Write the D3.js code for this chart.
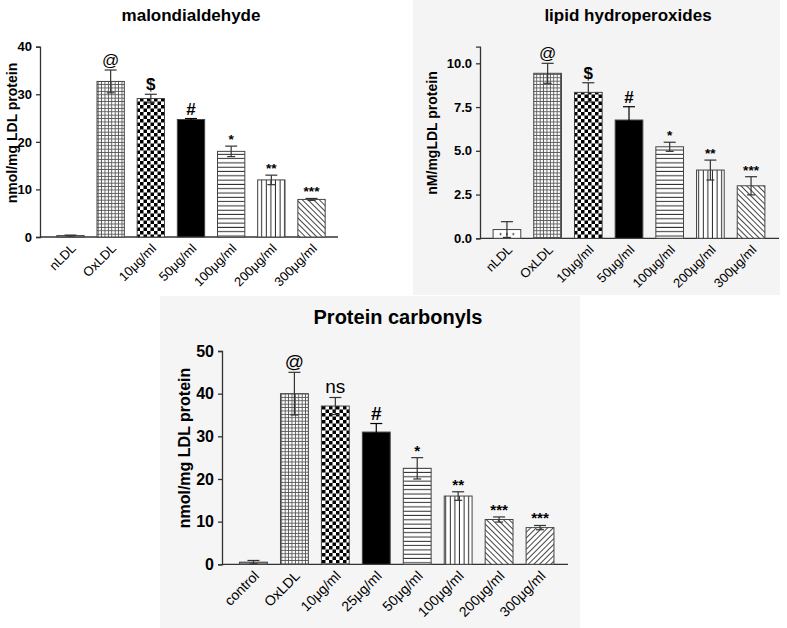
<!DOCTYPE html>
<html lang="en">
<head>
<meta charset="UTF-8">
<title>Oxidation markers</title>
<style>
  body { margin: 0; background: #fff; }
  svg text { font-family: Arial, "Liberation Sans", sans-serif; fill: #000; }
</style>
</head>
<body>
<div id="my_dataviz"></div>
<script src="https://d3js.org/d3.v7.min.js"></script>
<script>

// ---- data ----
var mdaLabels = ["nLDL", "OxLDL", "10μg/ml", "50μg/ml", "100μg/ml", "200μg/ml", "300μg/ml"];
var mdaMean   = [0.3, 32.7, 29.1, 24.7, 18.0, 12.0, 7.9];
var mdaErr    = [0.1, 2.4, 0.9, 0.2, 1.1, 1.0, 0.2];
var mdaSig    = ["", "@", "$", "#", "*", "**", "***"];
var mdaTicks  = [0, 10, 20, 30, 40];

var lhLabels = ["nLDL", "OxLDL", "10μg/ml", "50μg/ml", "100μg/ml", "200μg/ml", "300μg/ml"];
var lhMean   = [0.5, 9.43, 8.34, 6.76, 5.23, 3.9, 3.0];
var lhErr    = [0.45, 0.57, 0.55, 0.76, 0.26, 0.57, 0.52];
var lhSig    = ["", "@", "$", "#", "*", "**", "***"];
var lhTicks  = [0, 2.5, 5, 7.5, 10];

var pcLabels = ["control", "OxLDL", "10μg/ml", "25μg/ml", "50μg/ml", "100μg/ml", "200μg/ml", "300μg/ml"];
var pcMean   = [0.5, 40.0, 37.1, 31.0, 22.5, 16.0, 10.5, 8.6];
var pcErr    = [0.4, 5.0, 2.0, 2.0, 2.5, 1.0, 0.6, 0.5];
var pcSig    = ["", "@", "ns", "#", "*", "**", "***", "***"];
var pcTicks  = [0, 10, 20, 30, 40, 50];

var svg = d3.select("#my_dataviz")
  .append("svg")
    .attr("width", 787)
    .attr("height", 628);

// light grey panels behind the two right/bottom figures
svg.append("rect").attr("x", 413).attr("y", 0).attr("width", 367).attr("height", 295).attr("fill", "#f4f4f4");
svg.append("rect").attr("x", 160).attr("y", 296).attr("width", 420).attr("height", 332).attr("fill", "#f5f5f5");

// ---- fill patterns ----
var defs = svg.append("defs");
var ink = "#2a2a2a";

var p = defs.append("pattern").attr("id", "grid").attr("patternUnits", "userSpaceOnUse")
  .attr("width", 3.4).attr("height", 3.4);
p.append("rect").attr("width", 3.4).attr("height", 3.4).attr("fill", "#fff");
p.append("rect").attr("x", 2.5).attr("width", 0.9).attr("height", 3.4).attr("fill", "#555");
p.append("rect").attr("y", 2.5).attr("width", 3.4).attr("height", 0.9).attr("fill", "#555");

p = defs.append("pattern").attr("id", "checker").attr("patternUnits", "userSpaceOnUse")
  .attr("width", 7).attr("height", 7);
p.append("rect").attr("width", 7).attr("height", 7).attr("fill", "#fff");
p.append("rect").attr("width", 3.5).attr("height", 3.5).attr("fill", "#000");
p.append("rect").attr("x", 3.5).attr("y", 3.5).attr("width", 3.5).attr("height", 3.5).attr("fill", "#000");

p = defs.append("pattern").attr("id", "hlines").attr("patternUnits", "userSpaceOnUse")
  .attr("width", 8).attr("height", 4.3);
p.append("rect").attr("width", 8).attr("height", 4.3).attr("fill", "#fff");
p.append("rect").attr("y", 3.3).attr("width", 8).attr("height", 1).attr("fill", ink);

p = defs.append("pattern").attr("id", "vlines").attr("patternUnits", "userSpaceOnUse")
  .attr("width", 4.6).attr("height", 8);
p.append("rect").attr("width", 4.6).attr("height", 8).attr("fill", "#fff");
p.append("rect").attr("x", 3.6).attr("width", 1).attr("height", 8).attr("fill", ink);

p = defs.append("pattern").attr("id", "diagDown").attr("patternUnits", "userSpaceOnUse")
  .attr("width", 4).attr("height", 4).attr("patternTransform", "rotate(-45)");
p.append("rect").attr("width", 4).attr("height", 4).attr("fill", "#fff");
p.append("rect").attr("width", 1).attr("height", 4).attr("fill", "#444");

p = defs.append("pattern").attr("id", "diagUp").attr("patternUnits", "userSpaceOnUse")
  .attr("width", 4).attr("height", 4).attr("patternTransform", "rotate(45)");
p.append("rect").attr("width", 4).attr("height", 4).attr("fill", "#fff");
p.append("rect").attr("width", 1).attr("height", 4).attr("fill", "#444");

p = defs.append("pattern").attr("id", "dots").attr("patternUnits", "objectBoundingBox")
  .attr("patternContentUnits", "objectBoundingBox").attr("width", 1).attr("height", 1);
p.append("rect").attr("width", 1).attr("height", 1).attr("fill", "#fff");
[0.27, 0.5, 0.73].forEach(function(f) {
  p.append("rect").attr("x", f - 0.03).attr("y", 0.42).attr("width", 0.06).attr("height", 0.2).attr("fill", "#222");
});

var fillFor = {
  gray: "#8a8a8a", grid: "url(#grid)", checker: "url(#checker)", black: "#000",
  hlines: "url(#hlines)", vlines: "url(#vlines)", diagDown: "url(#diagDown)",
  diagUp: "url(#diagUp)", dots: "url(#dots)"
};

// ---- one bar chart ----
function drawChart(c) {
  var g = svg.append("g");
  var rows = c.labels.map(function(l, i) {
    return { label: l, mean: c.mean[i], err: c.err[i], sig: c.sig[i], fill: c.fills[i] };
  });

  var x = d3.scaleBand().domain(c.labels).range(c.xRange).paddingInner(0.32).paddingOuter(0.16);
  var y = d3.scaleLinear().domain([0, c.yMax]).range(c.yRange);
  var x0 = c.axisX;

  // y axis
  var ya = g.append("g")
    .attr("transform", "translate(" + x0 + ",0)")
    .call(d3.axisLeft(y).tickValues(c.ticks).tickFormat(c.fmt).tickSize(4).tickPadding(4));
  ya.select(".domain").attr("stroke", "#333").attr("stroke-width", 1.3);
  ya.selectAll(".tick line").attr("stroke", "#333").attr("stroke-width", 1.3);
  ya.selectAll(".tick text").attr("fill", "#000").style("font-size", c.tickSize + "px")
    .style("font-weight", "bold")
    .style("font-family", "Arial, 'Liberation Sans', sans-serif");

  // x axis line
  g.append("line")
    .attr("x1", x0).attr("x2", c.axisEnd)
    .attr("y1", y(0)).attr("y2", y(0))
    .attr("stroke", "#333").attr("stroke-width", 1.3);

  // bars
  g.selectAll("rect.bar").data(rows).enter().append("rect")
    .attr("class", "bar")
    .attr("x", function(d) { return x(d.label); })
    .attr("width", x.bandwidth())
    .attr("y", function(d) { return y(d.mean); })
    .attr("height", function(d) { return y(0) - y(d.mean); })
    .attr("fill", function(d) { return fillFor[d.fill]; })
    .attr("stroke", "#444").attr("stroke-width", 1);

  // error bars (mean +/- err, caps on both ends)
  var eb = g.selectAll("g.err").data(rows).enter().append("g").attr("class", "err")
    .attr("stroke", function(d) { return d.fill === "black" ? "#000" : "#333"; })
    .attr("stroke-width", 1.2);
  function cx(d) { return x(d.label) + x.bandwidth() / 2; }
  eb.append("line")
    .attr("x1", cx).attr("x2", cx)
    .attr("y1", function(d) { return y(d.mean + d.err); })
    .attr("y2", function(d) { return y(Math.max(0, d.mean - d.err)); });
  eb.append("line")
    .attr("x1", function(d) { return cx(d) - 6; }).attr("x2", function(d) { return cx(d) + 6; })
    .attr("y1", function(d) { return y(d.mean + d.err); })
    .attr("y2", function(d) { return y(d.mean + d.err); });
  eb.append("line")
    .attr("x1", function(d) { return cx(d) - 4; }).attr("x2", function(d) { return cx(d) + 4; })
    .attr("y1", function(d) { return y(Math.max(0, d.mean - d.err)); })
    .attr("y2", function(d) { return y(Math.max(0, d.mean - d.err)); });

  // significance marks
  g.selectAll("text.sig").data(rows).enter().append("text")
    .attr("class", "sig")
    .attr("x", cx)
    .attr("y", function(d) {
      var t = y(d.mean + d.err);
      return d.sig.charAt(0) === "*" ? t - 2 : t - 4;
    })
    .attr("text-anchor", "middle")
    .style("font-size", function(d) {
      if (d.sig.charAt(0) === "*") return (c.sigSize * 0.8) + "px";
      return c.sigSize + "px";
    })
    .style("font-weight", function(d) { return (d.sig === "$" || d.sig === "#" || d.sig.charAt(0) === "*") ? "bold" : "normal"; })
    .text(function(d) { return d.sig; });

  // rotated category labels
  g.selectAll("text.cat").data(rows).enter().append("text")
    .attr("class", "cat")
    .attr("transform", function(d) { return "translate(" + (cx(d) + 3) + "," + (y(0) + 9) + ") rotate(-45)"; })
    .attr("text-anchor", "end")
    .attr("dy", "0.35em")
    .style("font-size", c.catSize + "px")
    .text(function(d) { return d.label; });

  // y label
  g.append("text")
    .attr("transform", "translate(" + c.yLabelX + "," + c.yLabelY + ") rotate(-90)")
    .attr("text-anchor", "middle")
    .style("font-size", c.yLabelSize + "px")
    .style("font-weight", "bold")
    .text(c.yLabel);

  // title
  g.append("text")
    .attr("x", c.titleX).attr("y", c.titleY)
    .attr("text-anchor", "middle")
    .style("font-size", c.titleSize + "px")
    .style("font-weight", "bold")
    .text(c.title);
}

drawChart({
  title: "malondialdehyde", titleX: 191, titleY: 21, titleSize: 17,
  yLabel: "nmol/mg LDL protein", yLabelX: 17, yLabelY: 133, yLabelSize: 14,
  labels: mdaLabels, mean: mdaMean, err: mdaErr, sig: mdaSig,
  fills: ["gray", "grid", "checker", "black", "hlines", "vlines", "diagDown"],
  ticks: mdaTicks, fmt: d3.format("d"), yMax: 40, yRange: [237, 46.7],
  xRange: [50.4, 331.6], axisX: 40, axisEnd: 338,
  tickSize: 13, catSize: 13, sigSize: 17
});

drawChart({
  title: "lipid hydroperoxides", titleX: 628, titleY: 21, titleSize: 17,
  yLabel: "nM/mgLDL protein", yLabelX: 437, yLabelY: 133, yLabelSize: 14,
  labels: lhLabels, mean: lhMean, err: lhErr, sig: lhSig,
  fills: ["dots", "grid", "checker", "black", "hlines", "vlines", "diagDown"],
  ticks: lhTicks, fmt: d3.format(".1f"), yMax: 10.95, yRange: [238.3, 46.7],
  xRange: [486.6, 771.4], axisX: 480, axisEnd: 779,
  tickSize: 13, catSize: 13, sigSize: 17
});

drawChart({
  title: "Protein carbonyls", titleX: 398, titleY: 324, titleSize: 20,
  yLabel: "nmol/mg LDL protein", yLabelX: 190, yLabelY: 448, yLabelSize: 16,
  labels: pcLabels, mean: pcMean, err: pcErr, sig: pcSig,
  fills: ["gray", "grid", "checker", "black", "hlines", "vlines", "diagDown", "diagUp"],
  ticks: pcTicks, fmt: d3.format("d"), yMax: 50, yRange: [564.3, 351],
  xRange: [233, 560.5], axisX: 222, axisEnd: 568,
  tickSize: 16, catSize: 14, sigSize: 19
});

</script>
</body>
</html>
